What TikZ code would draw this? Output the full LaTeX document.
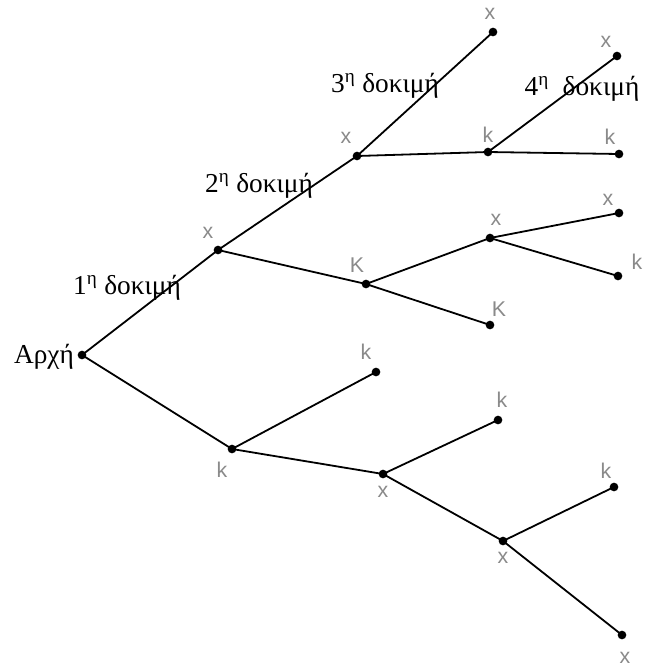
\documentclass[tikz,border=0pt]{standalone}
\usepackage{fontspec}
\setmainfont{Liberation Serif}
\newfontfamily\labfont{Liberation Sans}
\definecolor{labgray}{HTML}{8A8A8A}
\tikzset{
  dot/.style={circle,fill=black,inner sep=0pt,minimum size=6.5pt},
  lab/.style={font=\labfont\fontsize{16}{18}\selectfont,text=labgray,inner sep=0pt},
  trial/.style={font=\fontsize{20.5}{24}\selectfont,inner sep=0pt},
  branch/.style={line width=1.35pt}
}
\begin{document}
\begin{tikzpicture}[x=0.75pt,y=-0.75pt]
\useasboundingbox (0,0) rectangle (644,668);
% dots
\node[dot] (s) at (82,355) {};
\node[dot] (a1) at (218,250) {};
\node[dot] (a2) at (357,156) {};
\node[dot] (a3) at (493,32) {};
\node[dot] (a4) at (488,152) {};
\node[dot] (a5) at (617,56) {};
\node[dot] (a6) at (619,154) {};
\node[dot] (b1) at (366,284) {};
\node[dot] (b2) at (490,238) {};
\node[dot] (b3) at (619,213) {};
\node[dot] (b4) at (618,276) {};
\node[dot] (b5) at (490,325) {};
\node[dot] (c1) at (232,449) {};
\node[dot] (c2) at (376,372) {};
\node[dot] (c3) at (383,474) {};
\node[dot] (c4) at (498,420) {};
\node[dot] (c5) at (503,541) {};
\node[dot] (c6) at (614,487) {};
\node[dot] (c7) at (622,635) {};
% branches
\draw[branch] (s.center) -- (a1.center) -- (a2.center) -- (a3.center);
\draw[branch] (a2.center) -- (a4.center) -- (a5.center);
\draw[branch] (a4.center) -- (a6.center);
\draw[branch] (a1.center) -- (b1.center) -- (b2.center) -- (b3.center);
\draw[branch] (b2.center) -- (b4.center);
\draw[branch] (b1.center) -- (b5.center);
\draw[branch] (s.center) -- (c1.center) -- (c2.center);
\draw[branch] (c1.center) -- (c3.center) -- (c4.center);
\draw[branch] (c3.center) -- (c5.center) -- (c6.center);
\draw[branch] (c5.center) -- (c7.center);
% outcome labels
\node[lab] (la1) at (208,233) {x};
\node[lab] (la2) at (346,138) {x};
\node[lab] (la3) at (490,14) {x};
\node[lab] (la4) at (488,135) {k};
\node[lab] (la5) at (606,42) {x};
\node[lab] (la6) at (610,137) {k};
\node[lab] (lb1) at (357,265) {K};
\node[lab] (lb2) at (496,220) {x};
\node[lab] (lb3) at (608,200) {x};
\node[lab] (lb4) at (637,262) {k};
\node[lab] (lb5) at (499,309) {K};
\node[lab] (lc1) at (222,470) {k};
\node[lab] (lc2) at (366,352) {k};
\node[lab] (lc3) at (383,492) {x};
\node[lab] (lc4) at (502,400) {k};
\node[lab] (lc5) at (503,558) {x};
\node[lab] (lc6) at (606,471) {k};
\node[lab] (lc7) at (625,658) {x};
% trial labels
\node[trial] (start) at (44,357) {Αρχή};
\node[trial] (t1) at (127,288) {1\textsuperscript{η} δοκιμή};
\node[trial] (t2) at (259,186) {2\textsuperscript{η} δοκιμή};
\node[trial] (t3) at (385,86) {3\textsuperscript{η} δοκιμή};
\node[trial] (t4) at (582,89) {4\textsuperscript{η}\ \ δοκιμή};
\end{tikzpicture}
\end{document}
